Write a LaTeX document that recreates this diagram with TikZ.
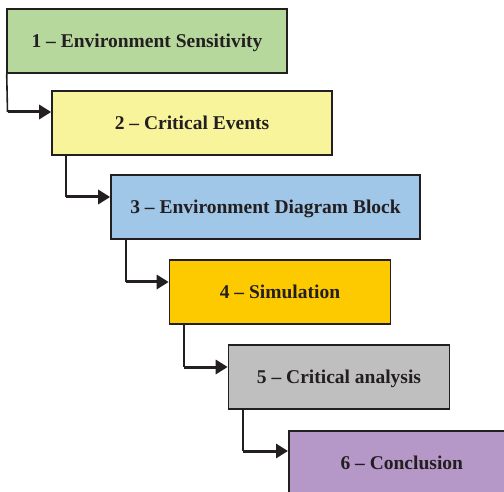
\documentclass[tikz,border=0pt]{standalone}
\usepackage{fontspec}
\setmainfont{Liberation Serif}
\usetikzlibrary{arrows.meta}
\definecolor{cgreen}{RGB}{182,216,156}
\definecolor{cyellow}{RGB}{248,244,156}
\definecolor{cblue}{RGB}{160,198,232}
\definecolor{corange}{RGB}{253,202,0}
\definecolor{cgray}{RGB}{191,191,191}
\definecolor{cpurple}{RGB}{181,152,200}
\definecolor{ctext}{RGB}{35,31,32}
\begin{document}
\begin{tikzpicture}[x=1pt,y=-1pt,
  stepbox/.style={draw=ctext,line width=1.6pt,inner sep=0pt,text height=13pt,text depth=0pt,font=\bfseries\fontsize{19.5}{22}\selectfont,text=ctext},
  link/.style={line width=1.6pt,ctext},
  arr/.style={line width=3pt,-{Triangle[length=12pt,width=14pt]},ctext}]
\useasboundingbox (0,0) rectangle (504,492);
\clip (0,0) rectangle (504,492);
\node[stepbox,fill=cgreen,minimum width=280pt,minimum height=64pt] (b1) at (147,41) {1 – Environment Sensitivity};
\node[stepbox,fill=cyellow,minimum width=280pt,minimum height=64pt] (b2) at (192,123) {2 – Critical Events};
\node[stepbox,fill=cblue,minimum width=309pt,minimum height=64pt] (b3) at (265.5,207) {3 – Environment Diagram Block};
\node[stepbox,fill=corange,minimum width=221pt,minimum height=64pt] (b4) at (280,292) {4 – Simulation};
\node[stepbox,fill=cgray,minimum width=221pt,minimum height=64pt] (b5) at (339,377) {5 – Critical analysis};
\node[stepbox,fill=cpurple,minimum width=240pt,minimum height=64pt,anchor=north west] (b6) at (288,430) {\hspace*{-14pt}6 – Conclusion};
\coordinate (c1) at (7.5,112);
\coordinate (c2) at (66,197);
\coordinate (c3) at (126,282);
\coordinate (c4) at (184,367);
\coordinate (c5) at (243,451);
\draw[link] (b1.south west) ++(0.5,0) -- (c1);
\draw[arr] (c1) -- (c1 -| b2.west);
\draw[link] (c2 |- b2.south) -- (c2);
\draw[arr] (c2) -- (c2 -| b3.west);
\draw[link] (c3 |- b3.south) -- (c3);
\draw[arr] (c3) -- (c3 -| b4.west);
\draw[link] (c4 |- b4.south) -- (c4);
\draw[arr] (c4) -- (c4 -| b5.west);
\draw[link] (c5 |- b5.south) -- (c5);
\draw[arr] (c5) -- (c5 -| b6.west);
\end{tikzpicture}
\end{document}
